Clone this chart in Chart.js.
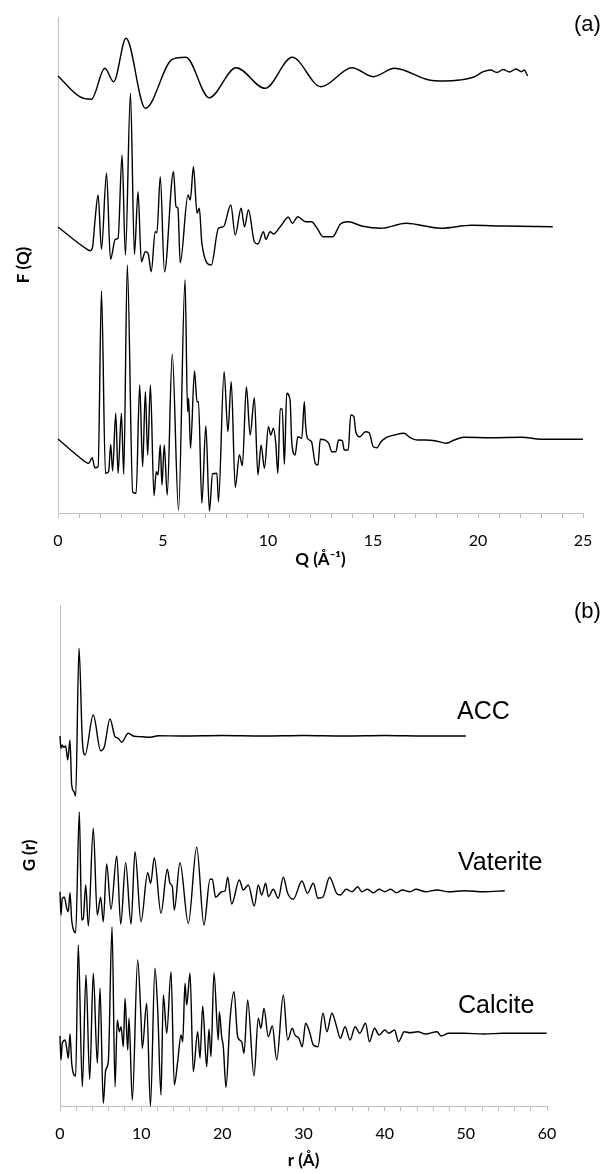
<!DOCTYPE html>
<html>
<head>
<meta charset="utf-8">
<script src="https://cdn.jsdelivr.net/npm/chart.js@4.4.1/dist/chart.umd.min.js"></script>
<style>
  body { margin: 0; background: #fff; }
  canvas { position: absolute; left: 0; }
  #chartA { top: 0; }
  #chartB { top: 580px; }
</style>
</head>
<body>
<canvas id="chartA" width="606" height="580"></canvas>
<canvas id="chartB" width="606" height="594"></canvas>
<script>
// (a) F(Q) - values already include the vertical offset of each curve (arb. units)
const qAcc = [0, 1.03, 1.59, 2.23, 2.65, 3.24, 4.16, 5.44, 6.09, 7.2, 8.48, 9.86, 11.15, 12.52, 14.0, 15.01, 16.02, 17.67, 18.4, 19.13, 19.8, 20.25, 20.6, 20.9, 21.2, 21.5, 21.8, 22.08, 22.2, 22.36];
const fAcc = [437, 416.3, 413.7, 444.7, 431.3, 474.7, 404.7, 453.7, 455.7, 415.3, 445.3, 424.7, 455.7, 426.3, 445.3, 436.3, 444.7, 433, 432, 433, 436, 441.3, 443, 440.5, 443.5, 441, 444, 441.3, 443, 437];

const qVat = [0, 1.39, 1.54, 1.65, 1.75, 1.91, 2.07, 2.31, 2.5, 2.73, 2.86, 3.05, 3.21, 3.45, 3.64, 3.81, 3.97, 4.16, 4.29, 4.44, 4.63, 4.71, 4.87, 5.07, 5.5, 5.62, 5.71, 5.82, 6.19, 6.3, 6.45, 6.62, 6.73, 6.85, 7.3, 7.64, 7.88, 8.23, 8.44, 8.72, 8.88, 9.07, 9.35, 9.52, 9.78, 9.9, 10.1, 10.26, 10.58, 10.97, 11.16, 11.42, 11.79, 12.07, 12.34, 12.62, 13.08, 13.45, 13.82, 14.46, 15.38, 16.57, 18.23, 19.7, 21.17, 23.56];
const fVat = [286, 263.7, 262.3, 266.3, 289.7, 318, 263.7, 339.7, 253.7, 273.7, 274.7, 358, 258, 419.7, 258.7, 321.3, 251.3, 261.3, 259.7, 241.3, 281.3, 280.3, 336.3, 241.3, 341.3, 306.3, 304.7, 250.3, 318, 313, 346.3, 299.7, 304.7, 269.7, 248, 284.7, 286.3, 308, 278, 304.7, 286.3, 303, 271.3, 269, 281.3, 273.7, 281.3, 279, 286.3, 295.7, 289.7, 296.3, 291.3, 291.3, 284.7, 276.3, 276.3, 289, 291.3, 287, 284.7, 289.7, 284.7, 287.7, 287, 286.3];

const qCal = [0, 0.99, 1.46, 1.63, 1.75, 1.91, 2.07, 2.26, 2.41, 2.51, 2.6, 2.75, 2.86, 3.02, 3.13, 3.3, 3.56, 3.72, 3.89, 4.03, 4.16, 4.27, 4.4, 4.57, 4.68, 4.76, 4.87, 4.95, 5.06, 5.2, 5.44, 5.74, 6.05, 6.17, 6.22, 6.31, 6.5, 6.62, 6.69, 6.85, 7.04, 7.21, 7.36, 7.57, 7.64, 7.91, 8.09, 8.25, 8.44, 8.64, 8.78, 8.97, 9.15, 9.35, 9.52, 9.67, 9.83, 10.02, 10.13, 10.26, 10.37, 10.47, 10.58, 10.68, 10.78, 10.89, 11.05, 11.13, 11.29, 11.42, 11.61, 11.73, 11.79, 11.88, 12.07, 12.25, 12.38, 12.49, 12.71, 12.89, 13.04, 13.23, 13.36, 13.54, 13.63, 13.82, 13.94, 14.09, 14.18, 14.37, 14.64, 14.82, 15.01, 15.19, 15.38, 15.65, 16.02, 16.48, 16.75, 17.12, 17.49, 17.95, 18.5, 18.87, 19.33, 20.62, 22.09, 23.01, 25];
const fCal = [74, 56.3, 49.7, 55.3, 45.3, 46.3, 222, 39.7, 41.3, 68.7, 42, 99.7, 39.7, 99.7, 38.7, 248, 20.7, 19.7, 128, 46.3, 121.3, 58, 128, 17.3, 41.3, 38, 68, 28, 68, 18, 158.7, 3, 233, 101.3, 114.7, 64.7, 142, 111.3, 111.3, 9.7, 87.3, 2, 39.3, 39.7, 11.3, 141.3, 81.3, 131.3, 25.7, 58, 47.3, 126.3, 78, 115.3, 38, 68, 44.7, 86.3, 78, 84.7, 69.7, 39.7, 104, 104, 48.7, 119.7, 113, 71.3, 58, 76.3, 74.7, 111.3, 88, 74.7, 71.3, 49.7, 48, 73.7, 73, 69.7, 61.3, 61.3, 73, 72.3, 63, 63, 98, 96.3, 81.3, 76.3, 81.3, 80.3, 66.3, 65.3, 71.3, 75.7, 78, 79.7, 75.7, 73, 73, 72.3, 69.7, 73, 75.7, 75.3, 75.7, 73.7, 73.7];

// (b) G(r) - values already include the vertical offset of each curve (arb. units)
const rAcc = [0, 0.12, 0.28, 0.46, 0.7, 0.95, 1.23, 1.44, 1.72, 1.93, 2.34, 2.75, 3.08, 4.1, 5.01, 5.46, 6.16, 6.78, 7.18, 7.6, 8.41, 9.03, 10.07, 11.09, 12.11, 15, 20, 25, 30, 35, 40, 45, 50];
const gAcc = [370, 357.7, 361, 358.7, 360, 346, 366, 321, 314.3, 310, 457.7, 366, 351, 391, 355.3, 359.3, 387, 369.3, 367.7, 363.7, 372.7, 370, 369.3, 368.7, 370.3, 370, 370.5, 370, 370.5, 370, 370.5, 370, 370];

const rVat = [0, 0.12, 0.28, 0.53, 0.83, 1.02, 1.23, 1.44, 1.64, 1.93, 2.38, 2.67, 2.87, 3.17, 3.49, 4.1, 4.59, 5.01, 5.33, 5.75, 6.28, 6.99, 7.48, 8.09, 8.75, 9.24, 9.98, 10.8, 11.17, 11.62, 12.44, 13.22, 13.55, 13.84, 14.08, 14.78, 15.81, 16.84, 17.74, 18.48, 18.76, 19.18, 19.92, 20.33, 20.66, 21.15, 22.09, 22.58, 23.2, 23.94, 24.43, 24.85, 25.34, 25.67, 26.28, 26.89, 27.51, 28.05, 28.74, 29.81, 30.49, 31.21, 31.78, 32.4, 33.21, 34.08, 34.54, 35.26, 35.97, 36.69, 37.17, 37.88, 38.6, 39.31, 40.03, 40.74, 41.46, 42.17, 43.12, 43.86, 45.03, 46.45, 47.9, 49.8, 52.19, 54.8];
const gVat = [214.3, 191, 207.7, 208.7, 197.7, 194.3, 213.3, 186, 176.7, 173.3, 294, 186, 188, 221, 180, 277.7, 191, 208.7, 184.3, 242, 196.7, 250, 182, 243.3, 182, 254.3, 184.3, 233.3, 222.7, 248.3, 192.7, 236.7, 222.7, 219.3, 196, 243.3, 182.7, 258.7, 181, 226.7, 226.7, 208.7, 214.3, 215, 228.7, 202, 226, 216, 221, 200, 221, 211, 222.7, 209.3, 216.7, 207.7, 228.7, 212.7, 206.7, 225, 212.7, 222.7, 207.7, 209, 228.7, 212.7, 211, 216.7, 214.3, 219.3, 214.3, 216.7, 213.3, 216.7, 214.3, 216.7, 213.3, 216, 214.3, 216.7, 214.3, 216, 214.3, 215.3, 214.3, 215.3];

const rCal = [0, 0.12, 0.28, 0.62, 0.83, 1.02, 1.23, 1.44, 1.64, 1.93, 2.25, 2.75, 3.2, 3.66, 4.1, 4.6, 4.93, 5.33, 5.63, 5.95, 6.41, 6.78, 7.06, 7.31, 7.52, 7.8, 8.01, 8.34, 8.5, 8.91, 9.57, 9.98, 10.14, 10.68, 11.14, 11.7, 12.04, 12.44, 12.73, 13.15, 13.68, 14.08, 14.5, 14.91, 15.12, 15.4, 15.61, 16.02, 16.42, 16.96, 17.25, 17.58, 18.07, 18.36, 18.6, 18.97, 19.5, 19.63, 19.92, 20.12, 20.45, 20.94, 21.44, 21.89, 22.38, 22.67, 23.12, 23.9, 24.43, 24.76, 25.13, 25.66, 26.16, 26.7, 27.51, 28.05, 28.62, 28.95, 29.44, 29.85, 30.26, 30.74, 31.21, 31.78, 32.4, 32.88, 33.5, 34.08, 34.54, 35.12, 35.74, 36.36, 36.93, 37.65, 38.12, 38.75, 39.31, 40.03, 40.51, 41.22, 41.7, 42.42, 43.12, 44.08, 45.03, 46.46, 46.94, 47.9, 49.8, 52.19, 54.58, 59.95];
const gCal = [70, 46, 62.7, 66, 57.7, 47.7, 72, 42.7, 32.7, 30, 161, 19.3, 131, 26.7, 132.7, 42.7, 117.7, 2.7, 36, 44.3, 179, 19.3, 86, 74.3, 79.3, 59.3, 107.7, 56, 87.7, 6, 146, 87.7, 57.7, 102.7, 0, 137.7, 96, 11, 111, 72.7, 134.3, 21, 44.3, 71, 64.3, 122.7, 101, 132.7, 34.3, 74.3, 47.7, 100, 39.3, 76.7, 49.3, 133.3, 66, 94.3, 69.3, 59.3, 18.7, 86, 114.3, 69.3, 64.3, 52.7, 106, 30, 87.7, 77.7, 97.7, 69.3, 80, 46, 111, 66, 77.7, 71, 67.7, 59.3, 82.7, 74.3, 61, 59.3, 92.7, 74.3, 92.7, 79.3, 67.7, 79.3, 66, 79.3, 72.7, 82.7, 64.3, 77.7, 71, 76, 72.7, 76, 64.3, 74.3, 73.3, 74.3, 72, 74.3, 70, 72.7, 72.7, 72, 72.7, 72.7];

const seriesNames = ['ACC', 'Vaterite', 'Calcite'];

function toPoints(xs, ys) {
  return xs.map((x, i) => ({ x: x, y: ys[i] }));
}

function curve(label, xs, ys) {
  return {
    label: label,
    data: toPoints(xs, ys),
    borderColor: '#000',
    borderWidth: 1.4,
    pointRadius: 0,
    fill: false,
    clip: false,
    cubicInterpolationMode: 'monotone'
  };
}

// free text on the canvas: panel letters and curve names
const panelText = {
  id: 'panelText',
  afterDraw(chart, args, opts) {
    const ctx = chart.ctx;
    ctx.save();
    ctx.fillStyle = '#000';
    ctx.textBaseline = 'middle';
    ctx.textAlign = 'left';
    (opts.items || []).forEach(function (it) {
      ctx.font = it.size + 'px "Liberation Sans", Arial, sans-serif';
      ctx.fillText(it.text, it.x, it.y);
    });
    ctx.restore();
  }
};

const axisGrey = '#bfbfbf';
const tickFont = { family: 'Lato, "Open Sans", sans-serif', size: 16 };
const titleFont = { family: 'Lato, "Open Sans", sans-serif', size: 17, weight: 'bold' };

function makeOptions(xMax, xStep, xLabelEvery, yMax, xTitle, yTitle, pad, xTitlePad, yTitlePad, texts) {
  return {
    responsive: false,
    animation: false,
    devicePixelRatio: 1,
    layout: { padding: pad },
    plugins: {
      legend: { display: false },
      tooltip: { enabled: false },
      panelText: { items: texts }
    },
    scales: {
      x: {
        type: 'linear',
        min: 0,
        max: xMax,
        afterFit: function (s) { s.height = pad.xHeight; },
        border: { display: true, color: axisGrey, width: 1 },
        grid: { display: true, drawOnChartArea: false, drawTicks: true, tickLength: 5, color: axisGrey },
        ticks: {
          stepSize: xStep,
          autoSkip: false,
          maxRotation: 0,
          padding: 13,
          color: '#000',
          font: tickFont,
          callback: function (v) { return v % xLabelEvery === 0 ? String(v) : ''; }
        },
        title: { display: true, text: xTitle, color: '#000', font: titleFont, padding: { top: 0, bottom: xTitlePad } }
      },
      y: {
        min: 0,
        max: yMax,
        afterFit: function (s) { s.width = pad.yWidth; },
        border: { display: true, color: axisGrey, width: 1 },
        grid: { display: false },
        ticks: { display: false },
        title: { display: true, text: yTitle, color: '#000', font: titleFont, padding: { top: yTitlePad, bottom: 0 } }
      }
    }
  };
}

const configA = {
  type: 'line',
  data: {
    datasets: [
      curve(seriesNames[0], qAcc, fAcc),
      curve(seriesNames[1], qVat, fVat),
      curve(seriesNames[2], qCal, fCal)
    ]
  },
  options: makeOptions(25, 1, 5, 496, 'Q (Å⁻¹)', 'F (Q)',
    { left: 0, right: 23, top: 17, bottom: 0, xHeight: 67, yWidth: 58 }, 10, 13,
    [{ text: '(a)', x: 574, y: 25, size: 22 }]),
  plugins: [panelText]
};

const configB = {
  type: 'line',
  data: {
    datasets: [
      curve(seriesNames[0], rAcc, gAcc),
      curve(seriesNames[1], rVat, gVat),
      curve(seriesNames[2], rCal, gCal)
    ]
  },
  options: makeOptions(60, 2, 10, 501, 'r (Å)', 'G (r)',
    { left: 0, right: 59, top: 25, bottom: 0, xHeight: 68, yWidth: 60 }, 3, 19,
    [
      { text: '(b)', x: 574, y: 32, size: 22 },
      { text: seriesNames[0], x: 457, y: 132, size: 25 },
      { text: seriesNames[1], x: 458, y: 283, size: 25 },
      { text: seriesNames[2], x: 458, y: 426, size: 25 }
    ]),
  plugins: [panelText]
};

var chartA = new Chart(document.getElementById('chartA'), configA);
var chartB = new Chart(document.getElementById('chartB'), configB);
</script>
</body>
</html>
